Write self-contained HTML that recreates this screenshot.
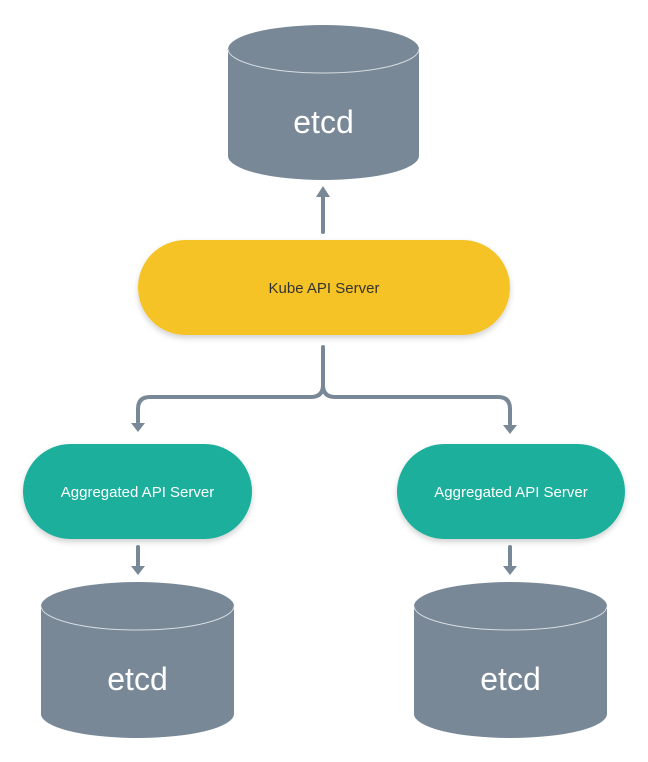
<!DOCTYPE html>
<html><head><style>body{margin:0;background:#fff}svg{display:block}</style></head><body>
<svg width="648" height="762" viewBox="0 0 648 762" xmlns="http://www.w3.org/2000/svg">
<defs><filter id="s" x="-10%" y="-20%" width="120%" height="150%"><feDropShadow dx="0" dy="3" stdDeviation="3" flood-color="#000" flood-opacity="0.18"/></filter></defs>
<g fill="#788897">
<path d="M228 49 A95.5 24 0 0 1 419 49 L419 156 A95.5 24 0 0 1 228 156 Z"/>
<path d="M41 606 A96.5 24 0 0 1 234 606 L234 714 A96.5 24 0 0 1 41 714 Z"/>
<path d="M414 606 A96.5 24 0 0 1 607 606 L607 714 A96.5 24 0 0 1 414 714 Z"/>
</g>
<g fill="none" stroke="#d8dde2" stroke-width="1">
<path d="M228 49 A95.5 24 0 0 0 419 49"/>
<path d="M41 606 A96.5 24 0 0 0 234 606"/>
<path d="M414 606 A96.5 24 0 0 0 607 606"/>
</g>
<g font-family="Liberation Sans, sans-serif" fill="#fff" text-anchor="middle">
<text x="323.5" y="133" font-size="32">etcd</text>
<text x="137.5" y="690" font-size="32">etcd</text>
<text x="510.5" y="690" font-size="32">etcd</text>
</g>
<g stroke="#788897" stroke-width="4" fill="none" stroke-linecap="round">
<path d="M323 232 V194"/>
<path d="M323 347 V385 Q323 397 311 397 H150 Q138 397 138 409 V422"/>
<path d="M323 385 Q323 397 335 397 H498 Q510 397 510 409 V424"/>
<path d="M138 547 V566"/>
<path d="M510 547 V566"/>
</g>
<g fill="#788897">
<path d="M316 197 L323 186 L330 197 Z"/>
<path d="M131 423 L138 432 L145 423 Z"/>
<path d="M503 425 L510 434 L517 425 Z"/>
<path d="M131 566 L138 575 L145 566 Z"/>
<path d="M503 566 L510 575 L517 566 Z"/>
</g>
<rect x="138" y="240" width="372" height="95" rx="47.5" fill="#f6c325" filter="url(#s)"/>
<rect x="23" y="444" width="229" height="95" rx="47.5" fill="#1aaf9c" filter="url(#s)"/>
<rect x="397" y="444" width="228" height="95" rx="47.5" fill="#1aaf9c" filter="url(#s)"/>
<g font-family="Liberation Sans, sans-serif" text-anchor="middle" font-size="15">
<text x="324" y="293" fill="#333">Kube API Server</text>
<text x="137.5" y="497" fill="#fff">Aggregated API Server</text>
<text x="511" y="497" fill="#fff">Aggregated API Server</text>
</g>
</svg>
</body></html>
